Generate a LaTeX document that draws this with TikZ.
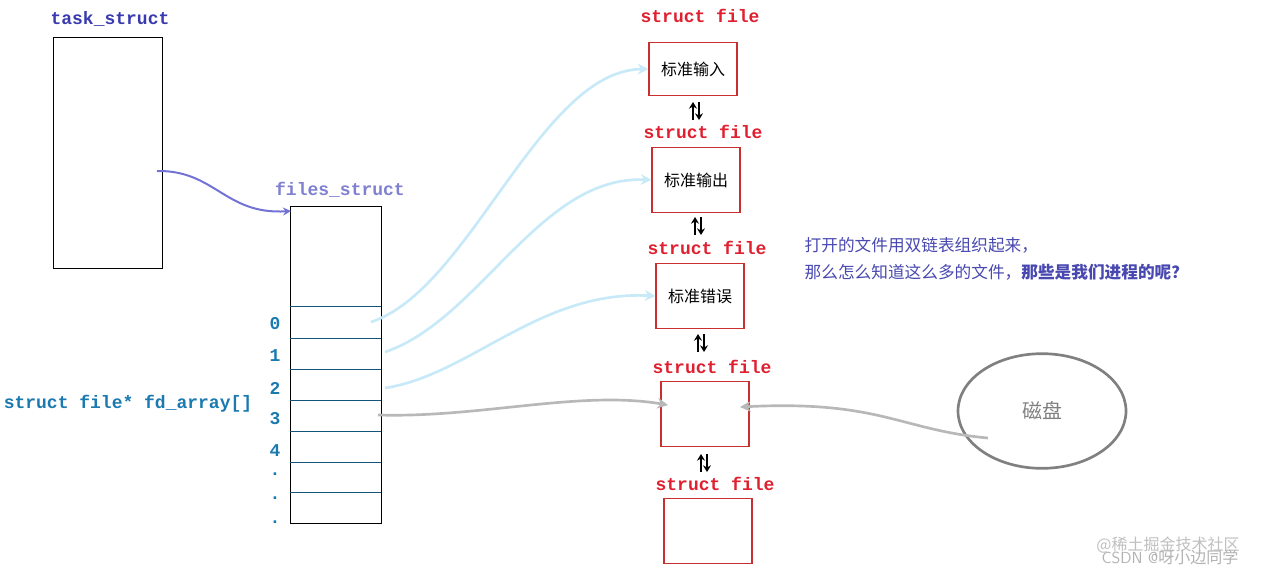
\documentclass[tikz,border=0pt]{standalone}
\usepackage{fontspec}
\setmonofont{Liberation Mono}
\newfontfamily\cjk{Noto Sans CJK SC}
\usetikzlibrary{arrows.meta,shapes.geometric}
\definecolor{tblue}{HTML}{3A3AB0}
\definecolor{fblue}{HTML}{8080D0}
\definecolor{iblue}{HTML}{1A7AB0}
\definecolor{sred}{HTML}{E02030}
\definecolor{boxred}{HTML}{C83030}
\definecolor{lblue}{HTML}{C8EAF8}
\definecolor{ngray}{HTML}{B8B8B8}
\definecolor{txtblue}{HTML}{4848B0}
\tikzset{
  lbl/.style={font=\ttfamily\bfseries\fontsize{13.5}{13.5}\selectfont},
  fbox/.style={draw=boxred, line width=0.8pt, minimum width=66pt, minimum height=49pt, inner sep=0pt},
  dbl/.style={line width=2.2pt, -{Stealth[length=5pt,width=6pt]}},
  bluecurve/.style={lblue, line width=2pt, -{Stealth[length=8pt,width=8pt]}},
}
\begin{document}
\begin{tikzpicture}[x=0.75pt,y=-0.75pt]
\useasboundingbox (0,0) rectangle (1266,575);
% task_struct
\node[lbl, tblue] (tl) at (110,19) {task\_struct};
\draw[line width=0.6pt] (53,37) rectangle (162,268);
\coordinate (ts) at (157,171);
% files_struct
\node[lbl, fblue] (fl) at (340,190) {files\_struct};
\draw[line width=0.6pt] (290,206) rectangle (381,523);
\foreach \y in {306,338,369,400,431,462,492} \draw[iblue!70!black, line width=0.5pt] (290,\y) -- (381,\y);
\coordinate (fs) at (291,211);
\foreach \t/\y in {0/324,1/356,2/388,3/419,4/451,./474,./498,./522}
  \node[lbl, iblue] at (275,\y) {\t};
\node[lbl, iblue] (fd) at (128,404) {struct file* fd\_array[]};
\draw[fblue!90!blue, line width=1.5pt, -{Stealth[length=6pt,width=6pt]}] (ts) .. controls (215,170) and (225,215) .. (fs);
% struct files
\node[lbl, sred] (la) at (700,16) {struct file};
\node[fbox, minimum height=40pt] (a) at (693,69) {\cjk\fontsize{12}{12}\selectfont 标准输入};
\foreach \n/\x/\y/\lx/\ly/\txt in {b/696/180/703/132/标准输出, c/700/296/707/248/标准错误, d/705/414/712/367/, e/708/531/715/484/}{
  \node[lbl, sred] (l\n) at (\lx,\ly) {struct file};
  \node[fbox] (\n) at (\x,\y) {\cjk\fontsize{12}{12}\selectfont \txt};
}
\foreach \x/\y in {696/111,698/226,701/343,704/463}{
  \draw[dbl] (\x-3,\y+9) -- (\x-3,\y-9);
  \draw[dbl] (\x+3,\y-9) -- (\x+3,\y+9);
}
% fd pointers
\coordinate (p0) at (371,322);
\coordinate (p1) at (385,352);
\coordinate (p2) at (385,388);
\coordinate (p3) at (378,415);
\draw[bluecurve] (p0) .. controls (470,290) and (540,70) .. (a.west);
\draw[bluecurve] (p1) .. controls (480,320) and (540,175) .. (b.west);
\draw[bluecurve] (p2) .. controls (470,375) and (540,290) .. (c.west);
\draw[ngray, line width=2pt, -{Stealth[length=8pt,width=8pt]}] (p3) .. controls (480,418) and (580,390) .. (668,405);
% disk
\node[draw=gray, line width=2pt, ellipse, minimum width=126pt, minimum height=86pt, inner sep=0pt, text=gray] (disk) at (1042,411) {\cjk\fontsize{15}{15}\selectfont 磁盘};
\coordinate (dk) at (988,438);
\draw[ngray, line width=2pt, -{Stealth[length=8pt,width=8pt]}] (dk) .. controls (900,430) and (880,400) .. (740,407);
% note
\node[anchor=west, txtblue, font=\cjk\fontsize{12.5}{12.5}\selectfont] (n1) at (800,245) {打开的文件用双链表组织起来，};
\node[anchor=west, txtblue, font=\cjk\fontsize{12.5}{12.5}\selectfont] (n2) at (800,272) {那么怎么知道这么多的文件，\textbf{那些是我们进程的呢？}};
% watermark
\node[gray!50, font=\cjk\fontsize{12}{12}\selectfont] (w1) at (1168,545) {@稀土掘金技术社区};
\node[gray!60, font=\fontsize{12}{12}\selectfont\sffamily] (w2) at (1170,557) {CSDN @{\cjk 呀小边同学}};
\end{tikzpicture}
\end{document}
